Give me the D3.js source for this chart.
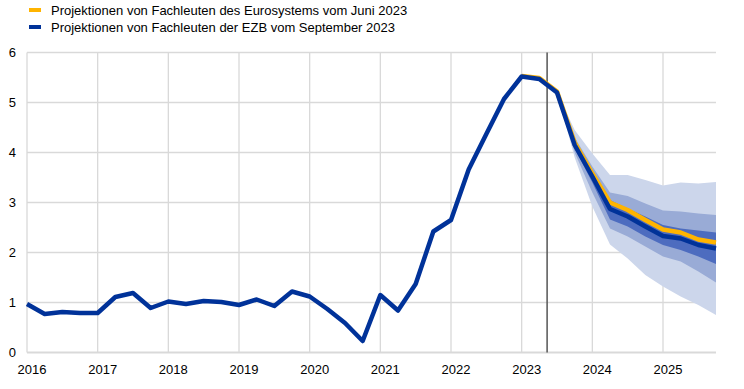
<!DOCTYPE html>
<html>
<head>
    <meta charset="utf-8" />
    <script src="https://d3js.org/d3.v7.min.js"></script>
    <style>
        body { margin: 0; background: #fff; }
        text { font-family: "Liberation Sans", Arial, sans-serif; fill: #000; }
    </style>
</head>
<body>
<svg id="chart" width="744" height="389"></svg>
<script>
    // quarters 2016Q1 .. 2025Q4
    const quarters = [
        "2016Q1", "2016Q2", "2016Q3", "2016Q4", "2017Q1", "2017Q2", "2017Q3", "2017Q4",
        "2018Q1", "2018Q2", "2018Q3", "2018Q4", "2019Q1", "2019Q2", "2019Q3", "2019Q4",
        "2020Q1", "2020Q2", "2020Q3", "2020Q4", "2021Q1", "2021Q2", "2021Q3", "2021Q4",
        "2022Q1", "2022Q2", "2022Q3", "2022Q4", "2023Q1", "2023Q2", "2023Q3", "2023Q4",
        "2024Q1", "2024Q2", "2024Q3", "2024Q4", "2025Q1", "2025Q2", "2025Q3", "2025Q4"
    ];
    // ECB staff projections, September 2023
    const septValues = [
        0.97, 0.77, 0.81, 0.79, 0.79, 1.11, 1.19, 0.89,
        1.02, 0.97, 1.03, 1.01, 0.95, 1.06, 0.93, 1.22,
        1.12, 0.87, 0.59, 0.23, 1.15, 0.84, 1.37, 2.42,
        2.65, 3.66, 4.37, 5.07, 5.52, 5.47, 5.20, 4.15,
        3.52, 2.87, 2.72, 2.52, 2.33, 2.28, 2.15, 2.08
    ];
    // Eurosystem staff projections, June 2023
    const juneQuarters = ["2023Q1", "2023Q2", "2023Q3", "2023Q4", "2024Q1", "2024Q2",
        "2024Q3", "2024Q4", "2025Q1", "2025Q2", "2025Q3", "2025Q4"];
    const juneValues = [5.53, 5.49, 5.22, 4.20, 3.58, 3.00, 2.85, 2.65, 2.46, 2.40, 2.26, 2.20];

    // uncertainty ranges
    const bandQuarters = ["2023Q3", "2023Q4", "2024Q1", "2024Q2", "2024Q3", "2024Q4",
        "2025Q1", "2025Q2", "2025Q3", "2025Q4"];
    const outerHigh = [5.20, 4.45, 3.98, 3.55, 3.55, 3.45, 3.34, 3.40, 3.38, 3.41];
    const outerLow  = [5.20, 3.90, 2.92, 2.16, 1.88, 1.55, 1.32, 1.12, 0.95, 0.75];
    const midHigh   = [5.20, 4.30, 3.72, 3.20, 3.13, 2.98, 2.84, 2.82, 2.78, 2.75];
    const midLow    = [5.20, 4.00, 3.20, 2.48, 2.32, 2.12, 1.92, 1.82, 1.62, 1.40];
    const innerHigh = [5.20, 4.22, 3.62, 3.05, 2.88, 2.72, 2.55, 2.48, 2.44, 2.40];
    const innerLow  = [5.20, 4.08, 3.40, 2.66, 2.52, 2.32, 2.15, 2.05, 1.92, 1.77];

    const yearTicks = [2016, 2017, 2018, 2019, 2020, 2021, 2022, 2023, 2024, 2025];
    const valueTicks = [0, 1, 2, 3, 4, 5, 6];
    const cutoff = 2023.36;

    const legendItems = [
        { label: "Projektionen von Fachleuten des Eurosystems vom Juni 2023", color: "#ffb400" },
        { label: "Projektionen von Fachleuten der EZB vom September 2023", color: "#003299" }
    ];

    // quarter string -> decimal year
    function qpos(q) {
        return +q.slice(0, 4) + (+q.slice(5) - 1) / 4;
    }

    var svg = d3.select("#chart");

    var x = d3.scaleLinear().domain([2016, 2025.75]).range([27, 716]);
    var y = d3.scaleLinear().domain([0, 6]).range([352.5, 52.5]);

    // horizontal grid
    svg.append("g")
        .selectAll("line")
        .data(valueTicks.filter(d => d > 0))
        .enter().append("line")
        .attr("x1", x.range()[0]).attr("x2", x.range()[1])
        .attr("y1", d => y(d)).attr("y2", d => y(d))
        .attr("stroke", "#d9d9d9").attr("stroke-width", 1.3);

    // vertical grid
    svg.append("g")
        .selectAll("line")
        .data(yearTicks)
        .enter().append("line")
        .attr("x1", d => x(d)).attr("x2", d => x(d))
        .attr("y1", y(6)).attr("y2", y(0))
        .attr("stroke", "#d9d9d9").attr("stroke-width", 1.3);

    // baseline
    svg.append("line")
        .attr("x1", x.range()[0]).attr("x2", x.range()[1])
        .attr("y1", y(0)).attr("y2", y(0))
        .attr("stroke", "#d9d9d9").attr("stroke-width", 2);

    // y labels
    svg.append("g")
        .selectAll("text")
        .data(valueTicks)
        .enter().append("text")
        .attr("x", 16)
        .attr("y", d => y(d) + 4.5)
        .attr("text-anchor", "end")
        .style("font-size", "13px")
        .text(d => d);

    // x labels
    svg.append("g")
        .selectAll("text")
        .data(yearTicks)
        .enter().append("text")
        .attr("x", d => x(d) + 5)
        .attr("y", 374)
        .attr("text-anchor", "middle")
        .style("font-size", "13px")
        .text(d => d);

    // fan bands
    const bands = [
        { low: outerLow, high: outerHigh, color: "#ccd6eb" },
        { low: midLow, high: midHigh, color: "#99abd6" },
        { low: innerLow, high: innerHigh, color: "#4d6cbf" }
    ];
    var area = d3.area()
        .x(d => x(d.q))
        .y0(d => y(d.lo))
        .y1(d => y(d.hi));

    bands.forEach(function (b) {
        var pts = bandQuarters.map((q, i) => ({ q: qpos(q), lo: b.low[i], hi: b.high[i] }));
        svg.append("path")
            .datum(pts)
            .attr("d", area)
            .attr("fill", b.color);
    });

    // vertical cutoff line
    svg.append("line")
        .attr("x1", x(cutoff)).attr("x2", x(cutoff))
        .attr("y1", y(6)).attr("y2", y(0))
        .attr("stroke", "#555555").attr("stroke-width", 1.5);

    var line = d3.line()
        .x(d => x(d.q))
        .y(d => y(d.v));

    // June line
    svg.append("path")
        .datum(juneQuarters.map((q, i) => ({ q: qpos(q), v: juneValues[i] })))
        .attr("d", line)
        .attr("fill", "none")
        .attr("stroke", "#ffb400")
        .attr("stroke-width", 4.5)
        .attr("stroke-linejoin", "round");

    // September line
    svg.append("path")
        .datum(quarters.map((q, i) => ({ q: qpos(q), v: septValues[i] })))
        .attr("d", line)
        .attr("fill", "none")
        .attr("stroke", "#003299")
        .attr("stroke-width", 4.5)
        .attr("stroke-linejoin", "round");

    // legend
    var legend = svg.append("g")
        .selectAll("g")
        .data(legendItems)
        .enter().append("g")
        .attr("transform", (d, i) => "translate(0," + (i * 17) + ")");

    legend.append("rect")
        .attr("x", 29).attr("y", 8)
        .attr("width", 12).attr("height", 4)
        .attr("fill", d => d.color);

    legend.append("text")
        .attr("x", 51).attr("y", 14.5)
        .style("font-size", "13px")
        .text(d => d.label);
</script>
</body>
</html>
